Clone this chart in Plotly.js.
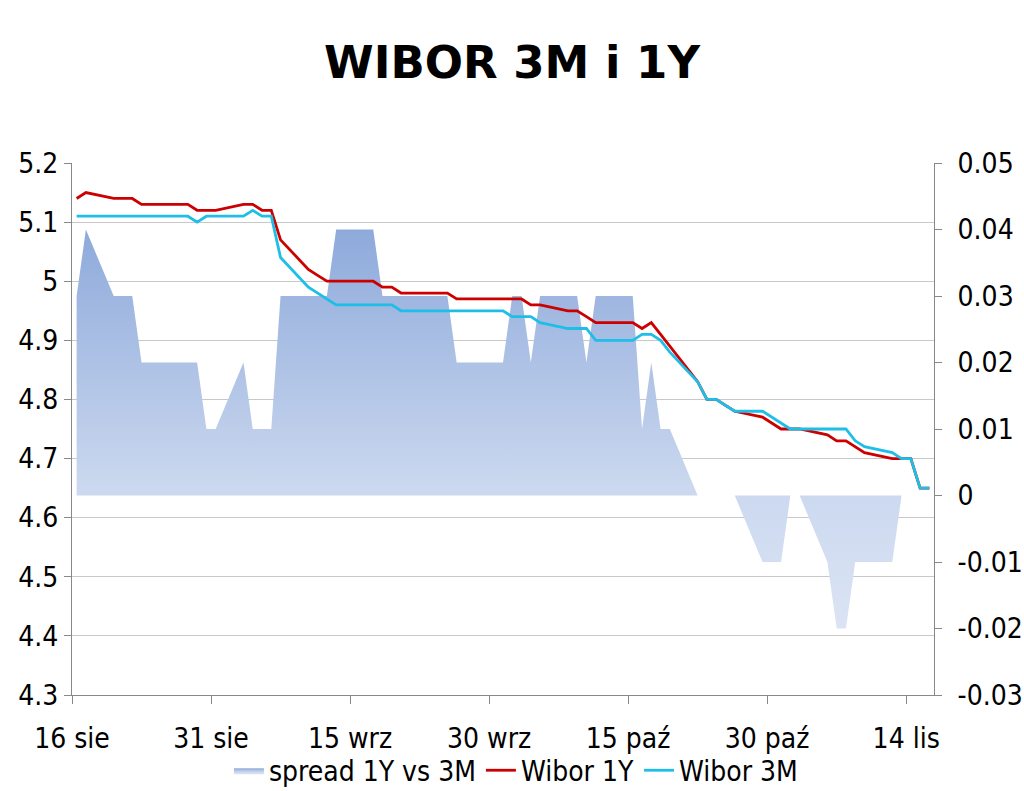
<!DOCTYPE html>
<html>
<head>
<meta charset="utf-8">
<script src="https://cdn.plot.ly/plotly-3.0.1.min.js"></script>
<style>html,body{margin:0;padding:0;background:#fff;}#chart{width:1024px;height:791px;}</style>
</head>
<body>
<div id="chart"></div>
<script>
const dates = [
 '2012-08-16','2012-08-17','2012-08-20','2012-08-21','2012-08-22','2012-08-23','2012-08-24','2012-08-27','2012-08-28','2012-08-29','2012-08-30','2012-08-31',
 '2012-09-03','2012-09-04','2012-09-05','2012-09-06','2012-09-07','2012-09-10','2012-09-11','2012-09-12','2012-09-13','2012-09-14','2012-09-17','2012-09-18','2012-09-19','2012-09-20','2012-09-21','2012-09-24','2012-09-25','2012-09-26','2012-09-27','2012-09-28',
 '2012-10-01','2012-10-02','2012-10-03','2012-10-04','2012-10-05','2012-10-08','2012-10-09','2012-10-10','2012-10-11','2012-10-12','2012-10-15','2012-10-16','2012-10-17','2012-10-18','2012-10-19','2012-10-22','2012-10-23','2012-10-24','2012-10-25','2012-10-26','2012-10-29','2012-10-30','2012-10-31',
 '2012-11-01','2012-11-02','2012-11-05','2012-11-06','2012-11-07','2012-11-08','2012-11-09','2012-11-12','2012-11-13','2012-11-14','2012-11-15','2012-11-16'
];
const wibor1Y = [
 5.14,5.15,5.14,5.14,5.14,5.13,5.13,5.13,5.13,5.12,5.12,5.12,
 5.13,5.13,5.12,5.12,5.07,5.02,5.01,5.00,5.00,5.00,5.00,4.99,4.99,4.98,4.98,4.98,4.98,4.97,4.97,4.97,
 4.97,4.97,4.97,4.96,4.96,4.95,4.95,4.94,4.93,4.93,4.93,4.92,4.93,4.91,4.89,4.83,4.80,4.80,4.79,4.78,4.77,4.76,4.75,
 4.75,4.75,4.74,4.73,4.73,4.72,4.71,4.70,4.70,4.70,4.65,4.65
];
const wibor3M = [
 5.11,5.11,5.11,5.11,5.11,5.11,5.11,5.11,5.11,5.10,5.11,5.11,
 5.11,5.12,5.11,5.11,5.04,4.99,4.98,4.97,4.96,4.96,4.96,4.96,4.96,4.95,4.95,4.95,4.95,4.95,4.95,4.95,
 4.95,4.94,4.94,4.94,4.93,4.92,4.92,4.92,4.90,4.90,4.90,4.91,4.91,4.90,4.88,4.83,4.80,4.80,4.79,4.78,4.78,4.77,4.76,
 4.75,4.75,4.75,4.75,4.75,4.73,4.72,4.71,4.70,4.70,4.65,4.65
];
const spread = [
 0.03,0.04,0.03,0.03,0.03,0.02,0.02,0.02,0.02,0.02,0.01,0.01,
 0.02,0.01,0.01,0.01,0.03,0.03,0.03,0.03,0.04,0.04,0.04,0.03,0.03,0.03,0.03,0.03,0.03,0.02,0.02,0.02,
 0.02,0.03,0.03,0.02,0.03,0.03,0.03,0.02,0.03,0.03,0.03,0.01,0.02,0.01,0.01,0,0,0,0,0,-0.01,-0.01,-0.01,
 0,0,-0.01,-0.02,-0.02,-0.01,-0.01,-0.01,0,0,0,0
];
const xTickVals = ['2012-08-16','2012-08-31','2012-09-15','2012-09-30','2012-10-15','2012-10-30','2012-11-14'];
const xTickText = ['16 sie','31 sie','15 wrz','30 wrz','15 paź','30 paź','14 lis'];
const leftTicks = [4.3,4.4,4.5,4.6,4.7,4.8,4.9,5,5.1,5.2];
const rightTicks = [-0.03,-0.02,-0.01,0,0.01,0.02,0.03,0.04,0.05];

const FONT = '"DejaVu Sans Condensed", "Liberation Sans", sans-serif';
const TFONT = '"DejaVu Sans", Verdana, sans-serif';
const DAY = 86400000;
const TICKSIZE = 28;

const traces = [
 {
  name: 'spread 1Y vs 3M', x: dates, y: spread, xperiod: DAY, xperiodalignment: 'middle',
  type: 'scatter', mode: 'lines', yaxis: 'y', fill: 'tozeroy',
  line: {width: 0, color: '#a9bfe5'},
  fillgradient: {type: 'vertical', start: -0.02, stop: 0.04,
    colorscale: [[0, '#dbe4f4'], [0.35, '#cbd8ef'], [1, '#8eaadb']]},
  hoverinfo: 'skip'
 },
 {
  name: 'Wibor 1Y', x: dates, y: wibor1Y, xperiod: DAY, xperiodalignment: 'middle',
  type: 'scatter', mode: 'lines', yaxis: 'y2',
  line: {width: 2.8, color: '#cc0000'}
 },
 {
  name: 'Wibor 3M', x: dates, y: wibor3M, xperiod: DAY, xperiodalignment: 'middle',
  type: 'scatter', mode: 'lines', yaxis: 'y2',
  line: {width: 2.8, color: '#1ebee6'}
 }
];

const layout = {
 width: 1024, height: 791,
 margin: {l: 72, r: 90, t: 163, b: 96, autoexpand: false},
 paper_bgcolor: '#ffffff', plot_bgcolor: '#ffffff',
 font: {family: FONT, size: TICKSIZE, color: '#000'},
 title: {text: 'WIBOR 3M i 1Y', font: {family: TFONT, size: 45, weight: 'bold', color: '#000'},
   x: 0.5, xanchor: 'center', y: 1 - 62/791, yanchor: 'middle', yref: 'container'},
 showlegend: true,
 legend: {orientation: 'h', x: 0.515, xanchor: 'center', y: -0.142, yanchor: 'middle',
   bgcolor: 'rgba(0,0,0,0)', borderwidth: 0,
   font: {family: FONT, size: TICKSIZE, color: '#000'}, traceorder: 'normal', itemwidth: 30},
 xaxis: {
  type: 'date', range: ['2012-08-16', '2012-11-17'],
  tickmode: 'array', tickvals: xTickVals, ticktext: xTickText,
  ticks: 'outside', ticklen: 8, tickcolor: '#888', tickwidth: 1, ticklabelstandoff: 10,
  showline: true, linecolor: '#888', linewidth: 1, showgrid: false, zeroline: false,
  tickfont: {family: FONT, size: TICKSIZE, color: '#000'}
 },
 yaxis: {
  side: 'right', range: [-0.03, 0.05], tickmode: 'array', tickvals: rightTicks,
  ticktext: rightTicks.map(v => String(v)),
  ticks: 'outside', ticklen: 7, tickcolor: '#888', showline: true, linecolor: '#888',
  ticklabelstandoff: 10,
  showgrid: false, zeroline: false, tickfont: {family: FONT, size: TICKSIZE, color: '#000'}
 },
 yaxis2: {
  overlaying: 'y', side: 'left', range: [4.3, 5.2], tickmode: 'array', tickvals: leftTicks,
  ticktext: leftTicks.map(v => String(v)),
  ticks: 'outside', ticklen: 7, tickcolor: '#888', showline: true, linecolor: '#888',
  showgrid: true, gridcolor: '#c8c8c8', gridwidth: 1, zeroline: false,
  tickfont: {family: FONT, size: TICKSIZE, color: '#000'}
 }
};

Plotly.newPlot('chart', traces, layout, {displayModeBar: false, staticPlot: true});
</script>
</body>
</html>
